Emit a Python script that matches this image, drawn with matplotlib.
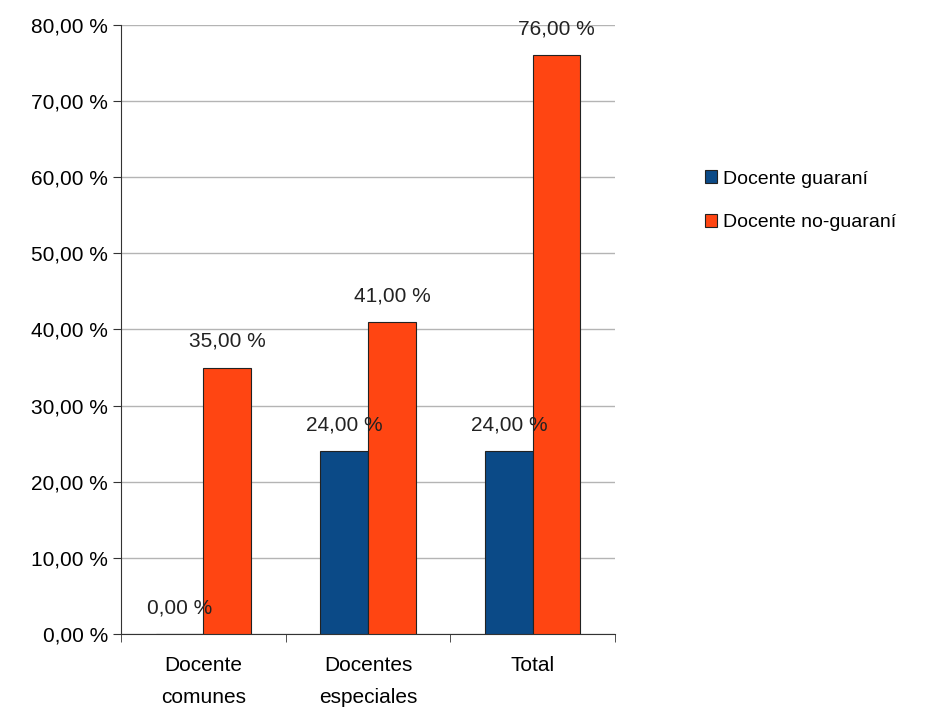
import numpy as np
import matplotlib.pyplot as plt
from matplotlib.ticker import FuncFormatter

plt.rcParams['font.family'] = ['Liberation Sans Narrow', 'Liberation Sans', 'DejaVu Sans']

categories = ['Docente\ncomunes', 'Docentes\nespeciales', 'Total']
guarani = [0, 24, 24]
no_guarani = [35, 41, 76]
series_names = ['Docente guaraní', 'Docente no-guaraní']
colors = ['#0b4a87', '#ff4512']

fig = plt.figure(figsize=(9.26, 7.11), dpi=100)
ax = fig.add_axes([0.1307, 0.1083, 0.5335, 0.8567])

x = np.arange(len(categories))
w = 0.29
b1 = ax.bar(x - w / 2, guarani, w, color=colors[0], edgecolor='#222222', linewidth=0.8,
            label=series_names[0], zorder=3)
b2 = ax.bar(x + w / 2, no_guarani, w, color=colors[1], edgecolor='#222222', linewidth=0.8,
            label=series_names[1], zorder=3)

for bars, vals in [(b1, guarani), (b2, no_guarani)]:
    for r, v in zip(bars, vals):
        ax.annotate(f'{v:.2f}'.replace('.', ',') + ' %',
                    (r.get_x() + r.get_width() / 2, v), xytext=(0, 12),
                    textcoords='offset points', ha='center', va='bottom',
                    fontsize=15, color='#222222', zorder=4)

ax.set_xlim(-0.5, 2.5)
ax.set_ylim(0, 80)
ax.set_yticks(range(0, 81, 10))
ax.yaxis.set_major_formatter(FuncFormatter(lambda v, p: f'{v:.2f}'.replace('.', ',') + ' %'))
ax.set_xticks(x)
ax.set_xticklabels(categories, linespacing=1.85)
ax.set_xticks([-0.5, 0.5, 1.5, 2.5], minor=True)
ax.tick_params(axis='x', which='major', length=0, pad=16, labelsize=15)
ax.tick_params(axis='x', which='minor', length=6, color='#333333')
ax.tick_params(axis='y', length=6, labelsize=15, color='#333333')
ax.grid(axis='y', color='#b4b4b4', linewidth=1, zorder=0)
for s in ['top', 'right']:
    ax.spines[s].set_visible(False)
ax.spines['left'].set_color('#333333')
ax.spines['bottom'].set_color('#333333')

fig.legend(loc='upper left', bbox_to_anchor=(0.742, 0.785), frameon=False, fontsize=14,
           handlelength=0.65, handleheight=0.65, handletextpad=0.3, labelspacing=1.35)

fig.savefig('out.png', dpi=100)
